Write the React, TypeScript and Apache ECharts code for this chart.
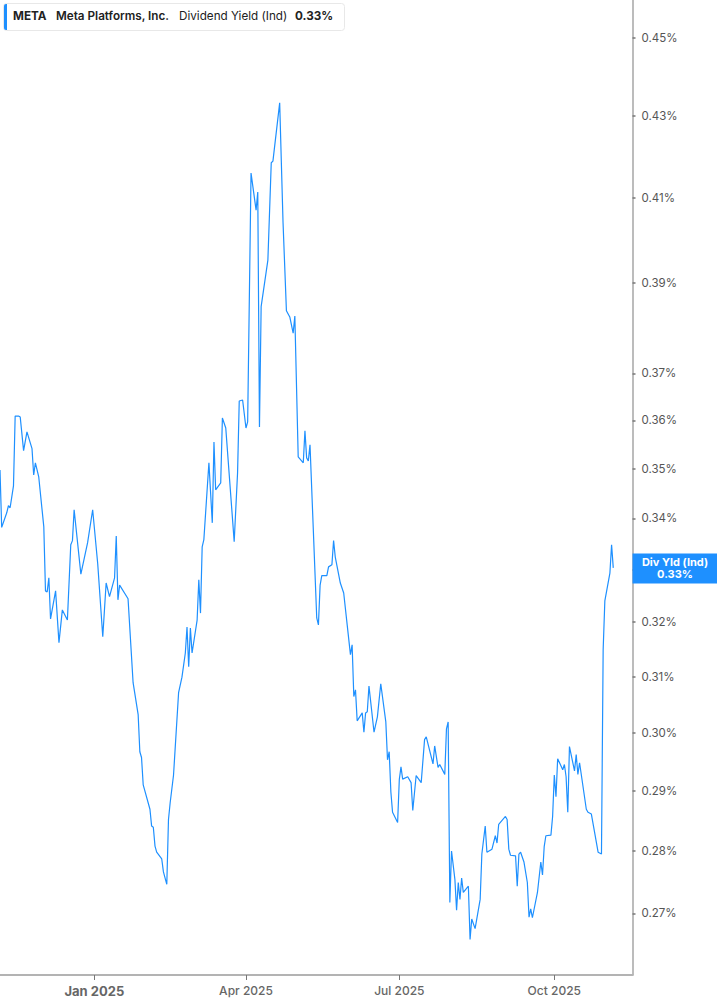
import { useEffect, useRef } from "react";
import * as echarts from "echarts";

const dates = [
  "2024-11-06", "2024-11-07", "2024-11-10", "2024-11-11", "2024-11-12", "2024-11-14",
  "2024-11-15", "2024-11-17", "2024-11-18", "2024-11-20", "2024-11-22", "2024-11-25",
  "2024-11-26", "2024-11-27", "2024-11-29", "2024-12-02", "2024-12-03", "2024-12-04",
  "2024-12-05", "2024-12-06", "2024-12-09", "2024-12-11", "2024-12-13", "2024-12-16",
  "2024-12-18", "2024-12-19", "2024-12-20", "2024-12-24", "2024-12-28", "2024-12-31",
  "2025-01-03", "2025-01-06", "2025-01-08", "2025-01-10", "2025-01-13", "2025-01-14",
  "2025-01-15", "2025-01-16", "2025-01-21", "2025-01-24", "2025-01-27", "2025-01-28",
  "2025-01-29", "2025-01-30", "2025-02-03", "2025-02-04", "2025-02-05", "2025-02-06",
  "2025-02-07", "2025-02-10", "2025-02-11", "2025-02-13", "2025-02-14", "2025-02-15",
  "2025-02-17", "2025-02-20", "2025-02-22", "2025-02-24", "2025-02-25", "2025-02-26",
  "2025-02-27", "2025-02-28", "2025-03-03", "2025-03-04", "2025-03-05", "2025-03-06",
  "2025-03-07", "2025-03-10", "2025-03-12", "2025-03-13", "2025-03-14", "2025-03-17",
  "2025-03-18", "2025-03-20", "2025-03-25", "2025-03-27", "2025-03-28", "2025-03-30",
  "2025-04-01", "2025-04-02", "2025-04-04", "2025-04-07", "2025-04-08", "2025-04-09",
  "2025-04-10", "2025-04-14", "2025-04-16", "2025-04-17", "2025-04-21", "2025-04-23",
  "2025-04-25", "2025-04-27", "2025-04-29", "2025-04-30", "2025-05-02", "2025-05-05",
  "2025-05-06", "2025-05-07", "2025-05-08", "2025-05-09", "2025-05-13", "2025-05-14",
  "2025-05-15", "2025-05-16", "2025-05-19", "2025-05-20", "2025-05-22", "2025-05-23",
  "2025-05-24", "2025-05-27", "2025-05-29", "2025-06-02", "2025-06-03", "2025-06-04",
  "2025-06-05", "2025-06-06", "2025-06-09", "2025-06-10", "2025-06-11", "2025-06-12",
  "2025-06-13", "2025-06-16", "2025-06-18", "2025-06-20", "2025-06-23", "2025-06-24",
  "2025-06-25", "2025-06-26", "2025-06-27", "2025-06-30", "2025-07-01", "2025-07-02",
  "2025-07-03", "2025-07-06", "2025-07-08", "2025-07-09", "2025-07-11", "2025-07-14",
  "2025-07-16", "2025-07-17", "2025-07-21", "2025-07-22", "2025-07-24", "2025-07-25",
  "2025-07-28", "2025-07-29", "2025-07-30", "2025-07-31", "2025-08-01", "2025-08-03",
  "2025-08-04", "2025-08-05", "2025-08-06", "2025-08-07", "2025-08-08", "2025-08-11",
  "2025-08-12", "2025-08-13", "2025-08-15", "2025-08-18", "2025-08-19", "2025-08-21",
  "2025-08-22", "2025-08-25", "2025-08-27", "2025-08-28", "2025-08-29", "2025-09-02",
  "2025-09-03", "2025-09-04", "2025-09-05", "2025-09-08", "2025-09-09", "2025-09-10",
  "2025-09-11", "2025-09-13", "2025-09-15", "2025-09-16", "2025-09-17", "2025-09-18",
  "2025-09-21", "2025-09-23", "2025-09-24", "2025-09-25", "2025-09-26", "2025-09-29",
  "2025-09-30", "2025-10-01", "2025-10-02", "2025-10-03", "2025-10-06", "2025-10-07",
  "2025-10-08", "2025-10-09", "2025-10-10", "2025-10-13", "2025-10-14", "2025-10-15",
  "2025-10-16", "2025-10-20", "2025-10-21", "2025-10-23", "2025-10-27", "2025-10-29",
  "2025-10-30", "2025-10-31", "2025-11-03", "2025-11-04", "2025-11-05",
];

// dividend yield, %
const yields = [
  0.3497, 0.3382, 0.3411, 0.3425, 0.3421, 0.3465,
  0.3609, 0.3609, 0.3607, 0.3537, 0.3576, 0.3541,
  0.3487, 0.3512, 0.3483, 0.3383, 0.3259, 0.3257,
  0.3284, 0.3206, 0.3259, 0.3162, 0.3223, 0.3204,
  0.3348, 0.3356, 0.3417, 0.3291, 0.3352, 0.3417,
  0.3311, 0.3173, 0.3274, 0.3248, 0.3284, 0.3365,
  0.3242, 0.327, 0.3244, 0.3089, 0.3032, 0.2967,
  0.2957, 0.291, 0.2869, 0.2841, 0.2839, 0.2808,
  0.2798, 0.2787, 0.2766, 0.2746, 0.2852, 0.288,
  0.2927, 0.3071, 0.3099, 0.3143, 0.3191, 0.3118,
  0.3189, 0.3143, 0.3204, 0.328, 0.3217, 0.3344,
  0.3358, 0.3512, 0.3391, 0.3555, 0.3457, 0.3471,
  0.3605, 0.3584, 0.3354, 0.3491, 0.3641, 0.3643,
  0.3584, 0.3597, 0.4159, 0.407, 0.4113, 0.3586,
  0.3847, 0.3953, 0.4184, 0.4188, 0.4333, 0.404,
  0.3838, 0.3824, 0.3788, 0.3826, 0.3524, 0.3512,
  0.3578, 0.3522, 0.3516, 0.3549, 0.3208, 0.3195,
  0.327, 0.3288, 0.3288, 0.3305, 0.3309, 0.3356,
  0.3324, 0.3274, 0.3255, 0.314, 0.3158, 0.3064,
  0.3076, 0.3021, 0.3035, 0.3001, 0.3035, 0.3037,
  0.3083, 0.3001, 0.3028, 0.3087, 0.3019, 0.2953,
  0.2967, 0.2898, 0.2864, 0.2847, 0.2919, 0.2941,
  0.292, 0.2924, 0.2914, 0.2867, 0.2926, 0.2914,
  0.2988, 0.2993, 0.2946, 0.2977, 0.294, 0.2945,
  0.2928, 0.3007, 0.3019, 0.2717, 0.28, 0.2754,
  0.2705, 0.2749, 0.2722, 0.2756, 0.2733, 0.2743,
  0.2659, 0.2691, 0.2676, 0.2722, 0.2795, 0.2841,
  0.2798, 0.2803, 0.2825, 0.2813, 0.2844, 0.2857,
  0.2852, 0.2803, 0.2793, 0.2792, 0.2743, 0.2795,
  0.2798, 0.2782, 0.2749, 0.2694, 0.2707, 0.2693,
  0.2733, 0.2782, 0.2761, 0.2807, 0.2825, 0.2826,
  0.2857, 0.2927, 0.289, 0.2955, 0.2936, 0.2945,
  0.2924, 0.2864, 0.2976, 0.2934, 0.2962, 0.2928,
  0.2948, 0.2869, 0.2864, 0.2861, 0.2798, 0.2795,
  0.3149, 0.324, 0.3293, 0.3348, 0.3303,
];

// tick marks; 0.33 has a tick but its label sits under the last-value badge
const yTicks = [0.27, 0.28, 0.29, 0.3, 0.31, 0.32, 0.33, 0.34, 0.35, 0.36, 0.37, 0.39, 0.41, 0.43, 0.45];
const yLabels = [0.27, 0.28, 0.29, 0.3, 0.31, 0.32, 0.34, 0.35, 0.36, 0.37, 0.39, 0.41, 0.43, 0.45];
const xTickDates = ["2025-01-01", "2025-04-01", "2025-07-01", "2025-10-01"];
const MONTHS = ["Jan", "Feb", "Mar", "Apr", "May", "Jun", "Jul", "Aug", "Sep", "Oct", "Nov", "Dec"];

const ticker = "META";
const company = "Meta Platforms, Inc.";
const metric = "Dividend Yield (Ind)";
const badgeTitle = "Div Yld (Ind)";
const lastValue = 0.33;

const BLUE = "#1e90ff";
const FONT = "Inter, 'Noto Sans', sans-serif";

const toTime = (s: string) => {
  const [y, m, d] = s.split("-").map(Number);
  return new Date(y, m - 1, d).getTime();
};

export default function App() {
  const chartRef = useRef<HTMLDivElement>(null);

  useEffect(() => {
    if (!chartRef.current) return;
    const chart = echarts.init(chartRef.current, null, { renderer: "svg" });
    const xTicks = xTickDates.map(toTime);
    const xMax = toTime("2025-11-16") + 10 * 3600 * 1000;

    chart.setOption({
      animation: false,
      backgroundColor: "#ffffff",
      textStyle: { fontFamily: FONT },
      grid: { left: 0, right: 84.5, top: 0, bottom: 30, containLabel: false },
      xAxis: {
        type: "value",
        min: toTime("2024-11-06"),
        max: xMax,
        axisLine: { show: true, onZero: false, lineStyle: { color: "#b3b3b3", width: 2 } },
        axisTick: {
          show: true,
          customValues: xTicks,
          length: 5,
          lineStyle: { color: "#777", width: 1 },
        },
        axisLabel: {
          customValues: xTicks,
          margin: 9,
          color: "#666",
          fontSize: 12,
          fontWeight: 500,
          formatter: (v: number) => {
            const d = new Date(v);
            const s = `${MONTHS[d.getMonth()]} ${d.getFullYear()}`;
            return d.getMonth() === 0 ? `{b|${s}}` : s;
          },
          rich: {
            b: { fontSize: 13, fontWeight: 700, color: "#666", fontFamily: FONT },
          },
        },
        splitLine: { show: false },
      },
      yAxis: {
        type: "value",
        position: "right",
        min: Math.log(0.26045),
        max: Math.log(0.4601),
        axisLine: { show: true, lineStyle: { color: "#a6a6a6", width: 1.5 } },
        axisTick: {
          show: true,
          customValues: yTicks.map((t) => Math.log(t)),
          length: 3,
          lineStyle: { color: "#777", width: 1.5 },
        },
        axisLabel: {
          customValues: yLabels.map((t) => Math.log(t)),
          margin: 9,
          color: "#555",
          fontSize: 11.5,
          formatter: (v: number) => `${Math.exp(v).toFixed(2)}%`,
        },
        splitLine: { show: false },
      },
      series: [
        {
          type: "line",
          showSymbol: false,
          data: dates.map((d, i) => [toTime(d), Math.log(yields[i])]),
          lineStyle: { color: BLUE, width: 1.2 },
          itemStyle: { color: BLUE },
        },
      ],
    });

    // legend card and the last-value badge; the badge is placed through the axis scale
    const [ax, ay] = chart.convertToPixel({ gridIndex: 0 }, [xMax, Math.log(lastValue)]);
    chart.setOption({
      graphic: [
        {
          type: "rect",
          left: 3,
          top: 3,
          shape: { width: 341, height: 27, r: 3 },
          style: { fill: "#fff", stroke: "#e8e8e8", lineWidth: 1 },
          z: 10,
        },
        {
          type: "rect",
          left: 4,
          top: 4,
          shape: { width: 3, height: 26, r: [2, 0, 0, 2] },
          style: { fill: BLUE },
          z: 11,
        },
        {
          type: "text",
          left: 13,
          top: 10,
          style: { text: ticker, fontSize: 11.7, fontWeight: 700, fill: "#222", fontFamily: FONT },
          z: 11,
        },
        {
          type: "text",
          left: 56,
          top: 10,
          style: { text: company, fontSize: 11.7, fontWeight: 600, fill: "#222", fontFamily: FONT },
          z: 11,
        },
        {
          type: "text",
          left: 179,
          top: 10,
          style: { text: metric, fontSize: 11.7, fontWeight: 400, fill: "#222", fontFamily: FONT },
          z: 11,
        },
        {
          type: "text",
          left: 295,
          top: 10,
          style: {
            text: `${lastValue.toFixed(2)}%`,
            fontSize: 11.7,
            fontWeight: 700,
            fill: "#222",
            fontFamily: FONT,
          },
          z: 11,
        },
        {
          type: "rect",
          shape: { x: ax, y: ay - 16, width: 85, height: 30 },
          style: { fill: BLUE },
          z: 20,
        },
        {
          type: "text",
          x: ax + 42.5,
          y: ay - 1.5,
          style: {
            text: badgeTitle,
            fill: "#fff",
            fontSize: 11,
            fontWeight: 700,
            fontFamily: FONT,
            align: "center",
            verticalAlign: "bottom",
          },
          z: 21,
        },
        {
          type: "text",
          x: ax + 42.5,
          y: ay - 0.5,
          style: {
            text: `${lastValue.toFixed(2)}%`,
            fill: "#fff",
            fontSize: 11,
            fontWeight: 700,
            fontFamily: FONT,
            align: "center",
            verticalAlign: "top",
          },
          z: 21,
        },
      ],
    });

    return () => chart.dispose();
  }, []);

  return (
    <div
      ref={chartRef}
      style={{ position: "fixed", left: 0, top: 0, width: "100vw", height: "100vh" }}
    />
  );
}
